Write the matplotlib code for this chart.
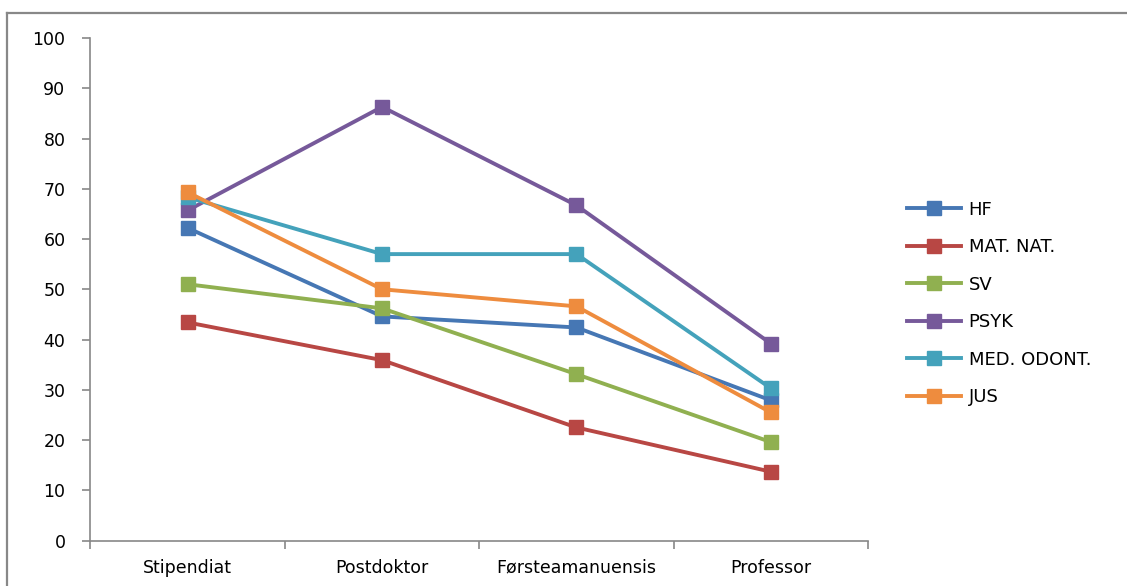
import matplotlib.pyplot as plt
from matplotlib.lines import Line2D

categories = ["Stipendiat", "Postdoktor", "Førsteamanuensis", "Professor"]

hf = [62.2, 44.6, 42.4, 27.9]
mat_nat = [43.4, 35.9, 22.5, 13.7]
sv = [51.0, 46.2, 33.1, 19.6]
psyk = [65.7, 86.3, 66.7, 39.2]
med_odont = [68.3, 57.0, 57.0, 30.3]
jus = [69.3, 50.0, 46.6, 25.5]

series = [
    ("HF", hf, "#4677B4"),
    ("MAT. NAT.", mat_nat, "#B84744"),
    ("SV", sv, "#90B050"),
    ("PSYK", psyk, "#76599A"),
    ("MED. ODONT.", med_odont, "#44A2BB"),
    ("JUS", jus, "#EE8C3E"),
]

plt.rcParams['font.family'] = ['DejaVu Sans']

fig = plt.figure(figsize=(11.27, 5.86), dpi=100)
ax = fig.add_axes([0.0803, 0.0776, 0.6899, 0.8575])

x = range(len(categories))
for name, vals, col in series:
    ax.plot(x, vals, color=col, lw=2.8, marker='s', markersize=9.5,
            markeredgecolor=col, label=name)

ax.set_ylim(0, 100)
ax.set_xlim(-0.5, len(categories) - 0.5)
ax.set_yticks(range(0, 101, 10))
ax.set_xticks(list(x))
ax.set_xticklabels(categories)
# category boundaries get the small tick marks
ax.set_xticks([i - 0.5 for i in range(len(categories) + 1)], minor=True)
ax.tick_params(axis='x', which='major', length=0, pad=13, labelsize=12.5)
ax.tick_params(axis='x', which='minor', length=6, color='#888888', width=1.2)
ax.tick_params(axis='y', length=6, color='#888888', width=1.2, pad=12, labelsize=12.5)

for s in ['top', 'right']:
    ax.spines[s].set_visible(False)
for s in ['left', 'bottom']:
    ax.spines[s].set_color('#888888')
    ax.spines[s].set_linewidth(1.2)

leg = fig.legend(loc='center left', bbox_to_anchor=(0.805, 0.482),
                 frameon=False, fontsize=13, handlelength=3.0,
                 handletextpad=0.4, labelspacing=1.08, borderpad=0,
                 borderaxespad=0)

# outer chart border (top and left edges)
fig.add_artist(Line2D([7 / 1127, 1.0], [1 - 13 / 586, 1 - 13 / 586],
                      transform=fig.transFigure, color='#888888', lw=1.6))
fig.add_artist(Line2D([7 / 1127, 7 / 1127], [0, 1 - 13 / 586],
                      transform=fig.transFigure, color='#888888', lw=1.6))

fig.savefig("out.png", dpi=100)
